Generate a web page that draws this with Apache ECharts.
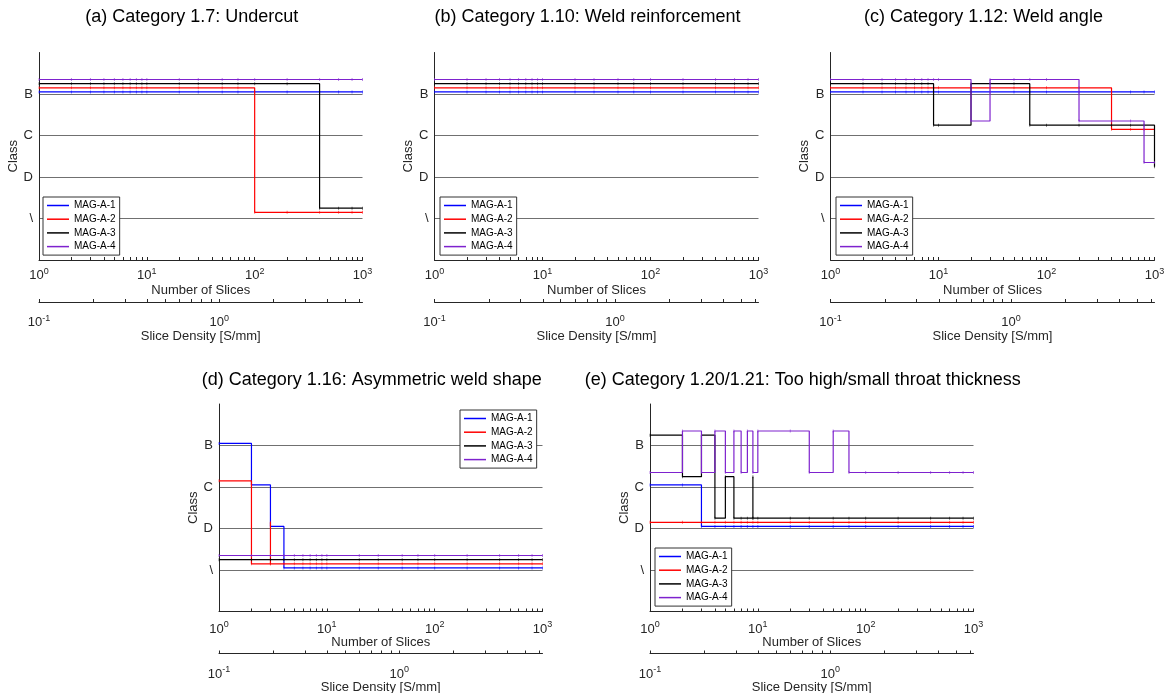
<!DOCTYPE html>
<html><head><meta charset="utf-8">
<script src="https://cdn.jsdelivr.net/npm/echarts@6/dist/echarts.min.js"></script>
<style>html,body{margin:0;padding:0;background:#fff}#c{width:1164px;height:693px}</style>
</head><body><div id="c"></div>
<script>
// ---------- DATA ----------
const slices = [1,2,3,4,5,6,7,8,9,10,20,30,50,70,100,200,400,600,800,1000];
const seriesNames = ['MAG-A-1','MAG-A-2','MAG-A-3','MAG-A-4'];
const classTickLabels = ['\\','D','C','B'];        // class value 0..3
const seriesOffsets = [0.05, 0.15, 0.25, 0.35];   // small vertical offset of each series
const sliceTickLabels = [1, 10, 100, 1000];
const sliceMinorTicks = [1,2,3,4,5,6,7,8,9,10,20,30,40,50,60,70,80,90,100,200,300,400,500,600,700,800,900,1000];
const densityTickLabels = [0.1, 1];
const densityMinorTicks = [0.1,0.2,0.3,0.4,0.5,0.6,0.7,0.8,0.9,1,2,3,4,5,6];
const densityMin = 0.1, densityMax = 6.24;

const B='B', C='C', D='D', N='\\';
// (a) Undercut
const a1 = [B,B,B,B,B,B,B,B,B,B,B,B,B,B,B,B,B,B,B,B];
const a2 = [B,B,B,B,B,B,B,B,B,B,B,B,B,B,N,N,N,N,N,N];
const a3 = [B,B,B,B,B,B,B,B,B,B,B,B,B,B,B,B,N,N,N,N];
const a4 = [B,B,B,B,B,B,B,B,B,B,B,B,B,B,B,B,B,B,B,B];
// (b) Weld reinforcement
const b1 = [B,B,B,B,B,B,B,B,B,B,B,B,B,B,B,B,B,B,B,B];
const b2 = [B,B,B,B,B,B,B,B,B,B,B,B,B,B,B,B,B,B,B,B];
const b3 = [B,B,B,B,B,B,B,B,B,B,B,B,B,B,B,B,B,B,B,B];
const b4 = [B,B,B,B,B,B,B,B,B,B,B,B,B,B,B,B,B,B,B,B];
// (c) Weld angle
const c1 = [B,B,B,B,B,B,B,B,B,B,B,B,B,B,B,B,B,B,B,B];
const c2 = [B,B,B,B,B,B,B,B,B,B,B,B,B,B,B,B,C,C,C,C];
const c3 = [B,B,B,B,B,B,B,B,C,C,B,B,B,C,C,C,C,C,C,D];
const c4 = [B,B,B,B,B,B,B,B,B,B,C,B,B,B,B,C,C,C,D,D];
// (d) Asymmetric weld shape
const d1 = [B,C,D,N,N,N,N,N,N,N,N,N,N,N,N,N,N,N,N,N];
const d2 = [C,N,N,N,N,N,N,N,N,N,N,N,N,N,N,N,N,N,N,N];
const d3 = [N,N,N,N,N,N,N,N,N,N,N,N,N,N,N,N,N,N,N,N];
const d4 = [N,N,N,N,N,N,N,N,N,N,N,N,N,N,N,N,N,N,N,N];
// (e) Too high/small throat thickness
const e1 = [C,C,D,D,D,D,D,D,D,D,D,D,D,D,D,D,D,D,D,D];
const e2 = [D,D,D,D,D,D,D,D,D,D,D,D,D,D,D,D,D,D,D,D];
const e3 = [B,C,B,D,C,D,D,D,D,D,D,D,D,D,D,D,D,D,D,D];
const e4 = [C,B,C,B,C,B,C,B,C,B,B,C,B,C,C,C,C,C,C,C];
// single-sample spikes: [slices, class]
const spikesD = [null, [3, D], null, null];
const spikesE = [null, null, [9, C], null];

const panelTitles = [
  '(a) Category 1.7: Undercut',
  '(b) Category 1.10: Weld reinforcement',
  '(c) Category 1.12: Weld angle',
  '(d) Category 1.16: Asymmetric weld shape',
  '(e) Category 1.20/1.21: Too high/small throat thickness'
];
const panelSeries = [[a1,a2,a3,a4],[b1,b2,b3,b4],[c1,c2,c3,c4],[d1,d2,d3,d4],[e1,e2,e3,e4]];
const panelSpikes = [null, null, null, spikesD, spikesE];

// ---------- LAYOUT / STYLE ----------
const colors = ['#0000ff', '#ff0000', '#000000', '#7e22ce'];
const FONT = '"Liberation Sans", Arial, Helvetica, sans-serif';
const AX = '#262626';
const layout = [
  {left: 39,    top: 52.5, w: 323.5, h: 207.5, legend: {left: 43,  top: 197}, row: 0},
  {left: 434.5, top: 52.5, w: 324,   h: 207.5, legend: {left: 440, top: 197}, row: 0},
  {left: 830.5, top: 52.5, w: 324,   h: 207.5, legend: {left: 836, top: 197}, row: 0},
  {left: 219,   top: 404,  w: 323.5, h: 207.5, legend: {left: 460, top: 410}, row: 1},
  {left: 650,   top: 404,  w: 323.5, h: 207.5, legend: {left: 655, top: 548}, row: 1}
];
const titleY = [17, 380];

function classValue(c) { return classTickLabels.indexOf(c); }
function powLabel(v) {
  const e = Math.round(Math.log10(v));
  return '{b|10}{s|' + e + '}';
}
const powRich = {
  b: {fontSize: 13, color: AX, fontFamily: FONT},
  s: {fontSize: 9, color: AX, fontFamily: FONT, padding: [0, 0, 8, 0]}
};

function buildData(levels, offset, spike) {
  const out = [];
  levels.forEach((lv, i) => {
    const x = slices[i];
    const y = classValue(lv) + offset;
    out.push([x, y]);
    if (spike && spike[0] === x) {
      out.push([x, classValue(spike[1]) + offset]);
      out.push([x, y]);
    }
  });
  return out;
}

const grids = [], xAxes = [], yAxes = [], series = [], legends = [], graphics = [];
layout.forEach((L, p) => {
  grids.push({left: L.left, top: L.top, width: L.w, height: L.h, containLabel: false, outerBoundsMode: 'none'});
  const labelMargin = L.row === 0 ? 7 : 9;
  xAxes.push({
    type: 'log', logBase: 10, gridIndex: p, min: 1, max: 1000, position: 'bottom',
    axisLine: {show: true, onZero: false, lineStyle: {color: AX, width: 1}},
    axisTick: {show: true, inside: true, length: 3, customValues: sliceMinorTicks, lineStyle: {color: AX}},
    axisLabel: {customValues: sliceTickLabels, formatter: powLabel, rich: powRich, margin: labelMargin},
    splitLine: {show: false},
    name: 'Number of Slices', nameLocation: 'middle', nameGap: 24,
    nameTextStyle: {fontSize: 13, color: AX, fontFamily: FONT}
  });
  xAxes.push({
    type: 'log', logBase: 10, gridIndex: p, min: densityMin, max: densityMax, position: 'bottom', offset: 42,
    axisLine: {show: true, onZero: false, lineStyle: {color: AX, width: 1}},
    axisTick: {show: true, inside: true, length: 3, customValues: densityMinorTicks, lineStyle: {color: AX}},
    axisLabel: {customValues: densityTickLabels, formatter: powLabel, rich: powRich, margin: 12},
    splitLine: {show: false},
    name: 'Slice Density [S/mm]', nameLocation: 'middle', nameGap: 27,
    nameTextStyle: {fontSize: 13, color: AX, fontFamily: FONT}
  });
  yAxes.push({
    type: 'value', gridIndex: p, min: -1, max: 4, interval: 1,
    axisLine: {show: true, onZero: false, lineStyle: {color: AX, width: 1}},
    axisTick: {show: false},
    axisLabel: {formatter: v => (v >= 0 && v <= 3) ? classTickLabels[v] : '', fontSize: 13, color: AX, fontFamily: FONT, margin: 6},
    splitLine: {show: true, showMinLine: false, showMaxLine: false, lineStyle: {color: '#707070', width: 1}},
    name: 'Class', nameLocation: 'middle', nameRotate: 90, nameGap: 16,
    nameTextStyle: {fontSize: 13, color: AX, fontFamily: FONT}
  });
  panelSeries[p].forEach((levels, k) => {
    const sp = panelSpikes[p] ? panelSpikes[p][k] : null;
    series.push({
      type: 'line', name: seriesNames[k], xAxisIndex: 2 * p, yAxisIndex: p,
      step: 'end', data: buildData(levels, seriesOffsets[k], sp),
      symbol: 'rect', symbolSize: [1, 3], showSymbol: true,
      lineStyle: {color: colors[k], width: 1.2},
      itemStyle: {color: colors[k], opacity: 0.55},
      emphasis: {disabled: true}, animation: false, z: 2 + k
    });
  });
  legends.push({
    data: seriesNames, orient: 'vertical', left: L.legend.left, top: L.legend.top,
    backgroundColor: '#fff', borderColor: '#333', borderWidth: 1, padding: [2, 4, 2, 4],
    icon: 'rect', itemWidth: 22, itemHeight: 1.5, itemGap: 0.7,
    itemStyle: {opacity: 1},
    textStyle: {fontSize: 10, color: '#000', fontFamily: FONT, lineHeight: 13},
    selectedMode: false
  });
  graphics.push({
    type: 'text', x: L.left + L.w / 2 - 9, y: titleY[L.row],
    style: {text: panelTitles[p], fontSize: 18, fontFamily: FONT, fill: '#000', align: 'center', verticalAlign: 'middle'}
  });
});

const chart = echarts.init(document.getElementById('c'), null, {renderer: 'canvas'});
chart.setOption({
  backgroundColor: '#ffffff',
  animation: false,
  textStyle: {fontFamily: FONT},
  grid: grids, xAxis: xAxes, yAxis: yAxes, series: series, legend: legends,
  graphic: graphics
});
</script></body></html>
